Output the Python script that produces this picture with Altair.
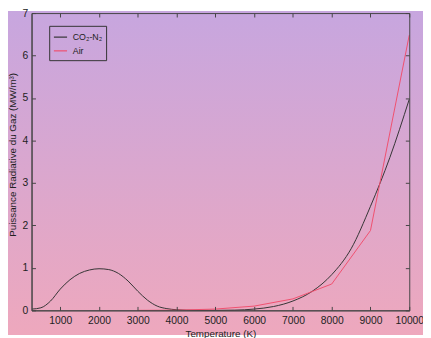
import altair as alt
import pandas as pd

# CO2-N2 series (Temperature K, Power MW/m^3)
co2_T = [273, 500, 750, 1000, 1250, 1500, 1750, 2000, 2250, 2500, 2750, 3000, 3250, 3500,
         3750, 4000, 4500, 5000, 5500, 6000, 6500, 7000, 7500, 8000, 8500, 9000, 9500, 10000]
co2_P = [0.03, 0.06, 0.22, 0.50, 0.72, 0.87, 0.95, 0.98, 0.96, 0.87, 0.69, 0.45, 0.24, 0.10,
         0.04, 0.015, 0.0, 0.0, 0.005, 0.03, 0.09, 0.22, 0.45, 0.84, 1.45, 2.45, 3.60, 4.97]
# Air series
air_T = [3000, 4000, 5000, 6000, 7000, 8000, 9000, 10000]
air_P = [0.0, 0.005, 0.03, 0.10, 0.27, 0.62, 1.88, 6.48]

series_names = ["CO\u2082-N\u2082", "Air"]
series_colors = ["#333333", "#f0506e"]
x_ticks = [1000, 2000, 3000, 4000, 5000, 6000, 7000, 8000, 9000, 10000]
y_ticks = [0, 1, 2, 3, 4, 5, 6, 7]
x_domain = [260, 10000]
y_domain = [0, 7]

W, H = 385, 303
PAD = {"left": 24, "top": 2, "right": 14, "bottom": 25}
FONT = "Liberation Sans"
AX = "#444444"

co2 = pd.DataFrame({"T": co2_T, "P": co2_P, "s": series_names[0]})
air = pd.DataFrame({"T": air_T, "P": air_P, "s": series_names[1]})

xs = alt.Scale(domain=x_domain, nice=False, zero=False)
ys = alt.Scale(domain=y_domain, nice=False)

bg = alt.Chart(alt.Data(values=[{}])).mark_rect(
    fill=alt.LinearGradient(
        gradient="linear",
        stops=[alt.GradientStop(color="#c7a6df", offset=0),
               alt.GradientStop(color="#eea8bd", offset=1)],
        x1=0, x2=0, y1=0, y2=1),
).encode(
    x=alt.value(-PAD["left"]), x2=alt.value(W + PAD["right"]),
    y=alt.value(-PAD["top"]), y2=alt.value(H + PAD["bottom"]),
)

color = alt.Color("s:N", scale=alt.Scale(domain=series_names, range=series_colors),
                  sort=series_names,
                  legend=alt.Legend(title=None, orient="none", legendX=18, legendY=13,
                                    strokeColor="#333333", padding=4, symbolType="stroke",
                                    symbolSize=180, symbolStrokeWidth=1.2, labelFontSize=9,
                                    labelFont=FONT, labelColor="#222222", rowPadding=1,
                                    labelOffset=5, zindex=2))

main_x = alt.Axis(orient="bottom", values=x_ticks, format="d", ticks=False, tickSize=0,
                  domain=True, domainColor=AX, grid=False, labelPadding=5, labelFlush=False,
                  labelOverlap=False, title="Temperature (K)", titlePadding=3, zindex=1)
main_y = alt.Axis(orient="left", values=y_ticks, format="d", ticks=False, tickSize=0,
                  domain=True, domainColor=AX, grid=False, labelPadding=4, labelFlush=False,
                  labelOverlap=False, title="Puissance Radiative du Gaz (MW/m\u00b3)",
                  titlePadding=5, titleY=144, zindex=1)

co2_line = alt.Chart(co2).mark_line(strokeWidth=1, interpolate="monotone").encode(
    x=alt.X("T:Q", scale=xs, axis=main_x),
    y=alt.Y("P:Q", scale=ys, axis=main_y),
    color=color,
)
air_line = alt.Chart(air).mark_line(strokeWidth=1).encode(
    x=alt.X("T:Q", scale=xs, axis=None),
    y=alt.Y("P:Q", scale=ys, axis=None),
    color=alt.Color("s:N", scale=alt.Scale(domain=series_names, range=series_colors), legend=None),
)

def tick_layer(xo, yo):
    return alt.Chart(co2).mark_point(opacity=0).encode(
        x=alt.X("T:Q", scale=xs,
                axis=alt.Axis(orient=xo, offset=-H, values=x_ticks, labels=False, domain=True,
                              domainColor=AX, grid=False, ticks=True, tickSize=4,
                              tickColor=AX, title=None, zindex=1)),
        y=alt.Y("P:Q", scale=ys,
                axis=alt.Axis(orient=yo, offset=-W, values=y_ticks, labels=False, domain=True,
                              domainColor=AX, grid=False, ticks=True, tickSize=4,
                              tickColor=AX, title=None, zindex=1)),
    )

chart = alt.layer(
    bg, co2_line, air_line, tick_layer("top", "right"), tick_layer("bottom", "left")
).resolve_axis(x="independent", y="independent").properties(
    width=W, height=H, autosize=alt.AutoSizeParams(type="none"), padding=PAD,
).configure_view(
    stroke=None
).configure_axis(
    labelFont=FONT, labelFontSize=10.5, labelColor="#222222",
    titleFont=FONT, titleFontSize=10, titleColor="#222222", titleFontWeight="normal",
)

chart.save("out.html", embed_options={"renderer": "svg", "actions": False})
